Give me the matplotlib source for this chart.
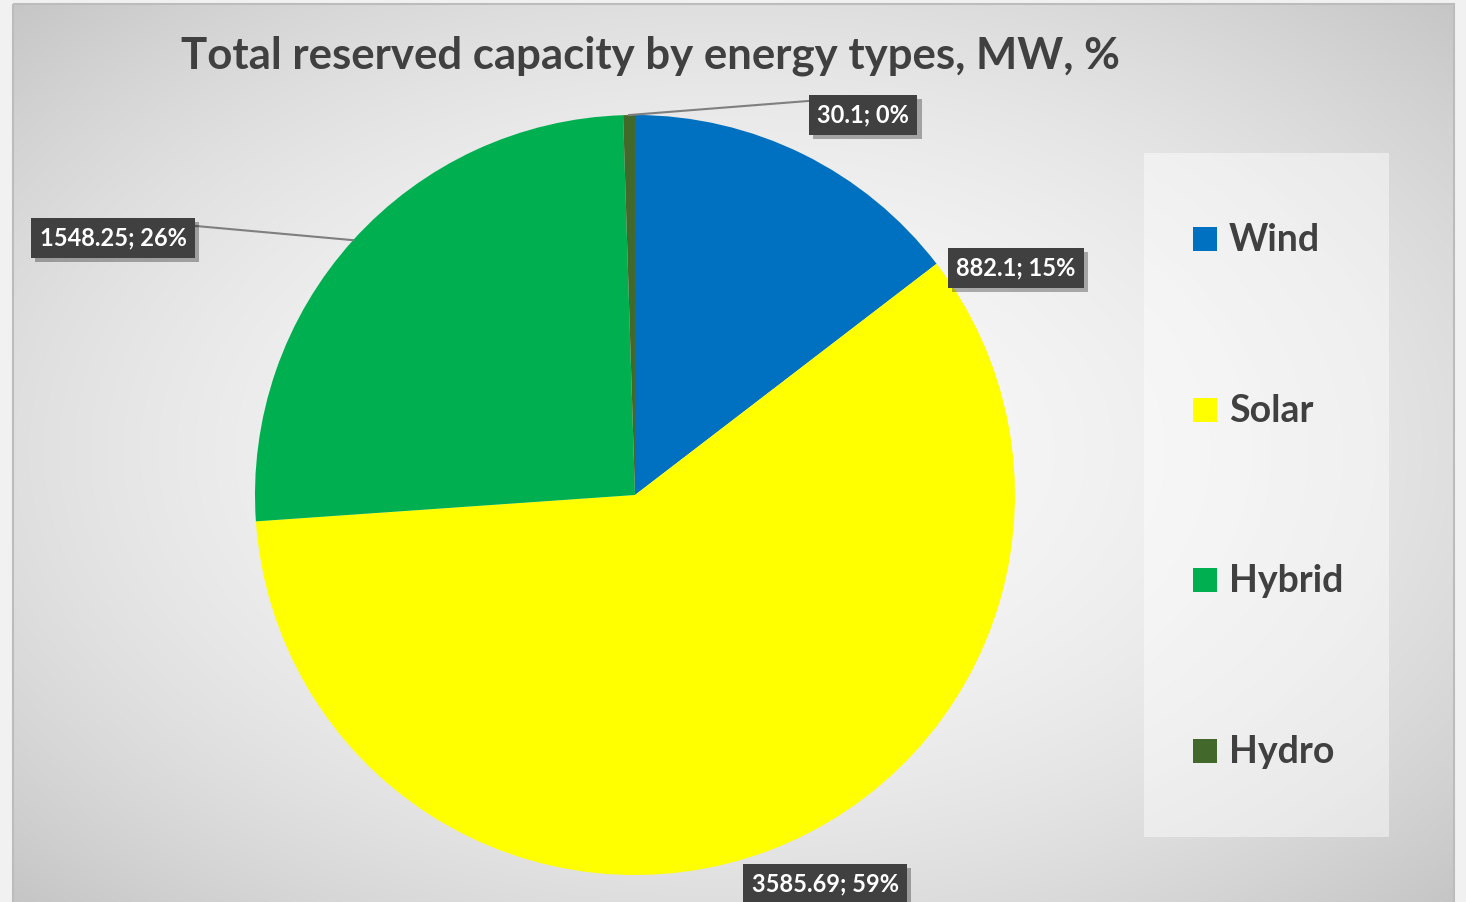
import numpy as np
import matplotlib
matplotlib.use('Agg')
import matplotlib.pyplot as plt
import matplotlib.patheffects as pe
from matplotlib.patches import Rectangle

# ---- data ----
categories = ['Wind', 'Solar', 'Hybrid', 'Hydro']
values = [882.1, 3585.69, 1548.25, 30.1]
colors = ['#0070C0', '#FFFF00', '#00B050', '#43682B']
title = 'Total reserved capacity by energy types, MW, %'

plt.rcParams['font.family'] = ['Lato', 'DejaVu Sans']

W, H = 1466, 902
fig = plt.figure(figsize=(W / 100, H / 100), dpi=100)
fig.patch.set_facecolor('#f1f1f1')
ax = fig.add_axes([0, 0, 1, 1])

# ---- chart-area background (radial gradient) ----
fx0, fx1, fy0, fy1 = 13, 1454, 4, 940
gx = np.linspace(fx0, fx1, 400)
gy = np.linspace(fy0, fy1, 300)
GX, GY = np.meshgrid(gx, gy)
cx_f, cy_f = (fx0 + fx1) / 2, 451
r2 = (((GX - cx_f) / ((fx1 - fx0) / 2)) ** 2 + ((GY - cy_f) / 447) ** 2) / 2
v = np.clip(248 - 50 * r2, 180, 250) / 255.0
img = np.dstack([v, v, v])
ax.imshow(img, extent=(fx0, fx1, fy1, fy0), origin='upper', zorder=0,
          interpolation='bilinear', aspect='auto')
ax.add_patch(Rectangle((fx0, fy0), fx1 - fx0, fy1 - fy0, fc='none',
                       ec='#bcbcbc', lw=1.5, zorder=1))

# ---- pie ----
pcx, pcy, R = 635, 495, 380
wedges, _ = ax.pie(values, colors=colors, startangle=-90, counterclock=True,
                   center=(pcx, pcy), radius=R, frame=True,
                   wedgeprops=dict(linewidth=0))
for w in wedges:
    w.set_zorder(2)

ax.set_xlim(0, W)
ax.set_ylim(H, 0)
ax.set_aspect('auto')
ax.axis('off')

total = sum(values)
label_text = [f"{v:g}; {round(v / total * 100):.0f}%" for v in values]

# label box centres (layout)
label_pos = [(1016, 268), (825, 884), (113, 238), (863, 115)]
leader_end = [None, None, (196, 226), (808, 101)]

for w, s, (lx, ly), le in zip(wedges, label_text, label_pos, leader_end):
    if le is not None:
        mid = np.deg2rad((w.theta1 + w.theta2) / 2)
        px, py = pcx + R * np.cos(mid), pcy + R * np.sin(mid)
        ax.plot([px, le[0]], [py, le[1]], color='#7f7f7f', lw=1.5, zorder=3)
    t = ax.text(lx, ly, s, ha='center', va='center', color='white',
                fontsize=17, fontweight='bold', zorder=5,
                bbox=dict(boxstyle='square,pad=0.36', fc='#404040', ec='none'))
    t.get_bbox_patch().set_path_effects([
        pe.SimplePatchShadow(offset=(3, -3), shadow_rgbFace='black', alpha=0.3),
        pe.Normal()])

# ---- legend ----
ax.add_patch(Rectangle((1144, 153), 245, 684, fc='white', ec='none', alpha=0.45, zorder=1))
leg_y0, leg_dy = 239, 170.7
for i, (c, name) in enumerate(zip(colors, categories)):
    yc = leg_y0 + i * leg_dy
    ax.add_patch(Rectangle((1193, yc - 12), 24, 24, fc=c, ec='none', zorder=3))
    ax.text(1229, yc + 12, name, ha='left', va='baseline', fontsize=27,
            fontweight='bold', color='#404040', zorder=3)

# ---- title ----
ax.text(650, 68, title, ha='center', va='baseline', fontsize=31.5,
        fontweight='bold', color='#404040', zorder=3)

fig.savefig('out.png', dpi=100, facecolor=fig.get_facecolor())
